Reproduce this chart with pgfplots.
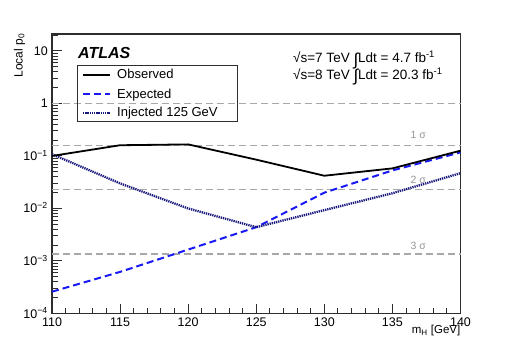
\documentclass[border=0pt]{standalone}
\usepackage{pgfplots}
\pgfplotsset{compat=1.18}
\usepackage{fontspec}
\setmainfont{Liberation Sans}

\definecolor{sigmagray}{RGB}{168,168,168}
\definecolor{labelgray}{RGB}{150,150,150}
\definecolor{expblue}{RGB}{25,25,245}
\definecolor{injnavy}{RGB}{25,25,125}
\definecolor{framegray}{RGB}{45,45,45}

\newcommand{\fs}[1]{\fontsize{#1}{#1}\selectfont}

\begin{document}
\begin{tikzpicture}
% picture frame: axis box sits at (0,0)-(408.5bp,279.5bp)
\path[use as bounding box] (-52bp,-35.5bp) rectangle (463bp,313.5bp);

\begin{axis}[
    name=ax, at={(0,0)}, anchor=south west,
    scale only axis, width=408.5bp, height=279.5bp,
    ymode=log,
    xmin=110, xmax=140, ymin=1e-4, ymax=21,
    xtick={110,115,...,140}, minor x tick num=4,
    ytick={1e-4,1e-3,1e-2,1e-1,1,10},
    yticklabels={10\textsuperscript{−4},10\textsuperscript{−3},10\textsuperscript{−2},10\textsuperscript{−1},1,10},
    minor ytick={2e-4,3e-4,4e-4,5e-4,6e-4,7e-4,8e-4,9e-4,
                 2e-3,3e-3,4e-3,5e-3,6e-3,7e-3,8e-3,9e-3,
                 2e-2,3e-2,4e-2,5e-2,6e-2,7e-2,8e-2,9e-2,
                 0.2,0.3,0.4,0.5,0.6,0.7,0.8,0.9,
                 2,3,4,5,6,7,8,9,20},
    xtick pos=bottom, ytick pos=left,
    tick align=inside,
    major tick length=10bp, minor tick length=6bp,
    every tick/.style={framegray, line width=1bp},
    axis line style={framegray, line width=1.2bp},
    /pgf/number format/assume math mode=true,
    tick label style={font=\fs{12.5bp}, inner sep=0pt},
    xticklabel style={anchor=north, yshift=-4bp},
    yticklabel style={anchor=base east, xshift=-4bp, yshift=-4.5bp},
    clip=false,
]
% significance reference lines
\addplot[sigmagray, line width=1.5bp, dash pattern=on 7bp off 4bp] coordinates {(110,1) (140,1)};
\addplot[sigmagray, line width=1.5bp, dash pattern=on 7bp off 4bp] coordinates {(110,0.1587) (140,0.1587)};
\addplot[sigmagray, line width=1.5bp, dash pattern=on 7bp off 4bp] coordinates {(110,0.02275) (140,0.02275)};
\addplot[sigmagray, line width=1.5bp, dash pattern=on 7bp off 4bp] coordinates {(110,0.00135) (140,0.00135)};

% expected
\addplot[expblue, line width=2bp, dash pattern=on 7bp off 4bp] coordinates {
  (110,2.6e-4) (115,6.2e-4) (120,1.65e-3) (125,4.4e-3) (130,0.020) (135,0.053) (140,0.117)};
% injected 125 GeV
\addplot[injnavy, line width=2.3bp, dash pattern=on 1.3bp off 0.9bp] coordinates {
  (110,0.108) (115,0.030) (120,0.0100) (125,0.0044) (130,0.0093) (135,0.0195) (140,0.047)};
% observed
\addplot[black, line width=1.8bp] coordinates {
  (110,0.100) (115,0.160) (120,0.166) (125,0.085) (130,0.042) (135,0.058) (140,0.126)};

\node[labelgray, font=\fs{10.5bp}, anchor=base] at ([yshift=7bp]axis cs:136.9,0.1587) {1 σ};
\node[labelgray, font=\fs{10.5bp}, anchor=base] at ([yshift=6bp]axis cs:136.9,0.02275) {2 σ};
\node[labelgray, font=\fs{10.5bp}, anchor=base] at ([yshift=5bp]axis cs:136.9,0.00135) {3 σ};
\end{axis}

% axis titles
\node[rotate=90, anchor=base east, font=\fs{12bp}, inner sep=0pt] at (-29.3bp,280bp) {Local p\textsubscript{0}};
\node[anchor=base east, font=\fs{11.5bp}, inner sep=0pt] at (408.5bp,-20bp) {m\textsubscript{H} [GeV]};

% ATLAS label
\node[anchor=base west, font=\fs{16bp}\bfseries\itshape, inner sep=0pt] at (26bp,255.3bp) {ATLAS};

% luminosity text
\node[anchor=base west, font=\fs{13.5bp}, inner sep=0pt] at (241bp,250.8bp)
  {√s=7 TeV {\fs{17bp}\raisebox{-2.5bp}{∫}}Ldt = 4.7 fb\textsuperscript{-1}};
\node[anchor=base west, font=\fs{13.5bp}, inner sep=0pt] at (241bp,234.2bp)
  {√s=8 TeV {\fs{17bp}\raisebox{-2.5bp}{∫}}Ldt = 20.3 fb\textsuperscript{-1}};

% legend
\draw[framegray, line width=1bp] (25bp,247.5bp) rectangle (185bp,191.5bp);
\draw[black, line width=1.8bp] (31bp,238.5bp) -- (58bp,238.5bp);
\draw[expblue, line width=2bp, dash pattern=on 7bp off 4bp] (31bp,219.5bp) -- (58bp,219.5bp);
\draw[injnavy, line width=2.3bp, dash pattern=on 1.3bp off 0.9bp] (31bp,200.5bp) -- (58bp,200.5bp);
\node[anchor=base west, font=\fs{13bp}, inner sep=0pt] at (65bp,234.5bp) {Observed};
\node[anchor=base west, font=\fs{13bp}, inner sep=0pt] at (65bp,215bp) {Expected};
\node[anchor=base west, font=\fs{13bp}, inner sep=0pt] at (65bp,196.5bp) {Injected 125 GeV};
\end{tikzpicture}
\end{document}
